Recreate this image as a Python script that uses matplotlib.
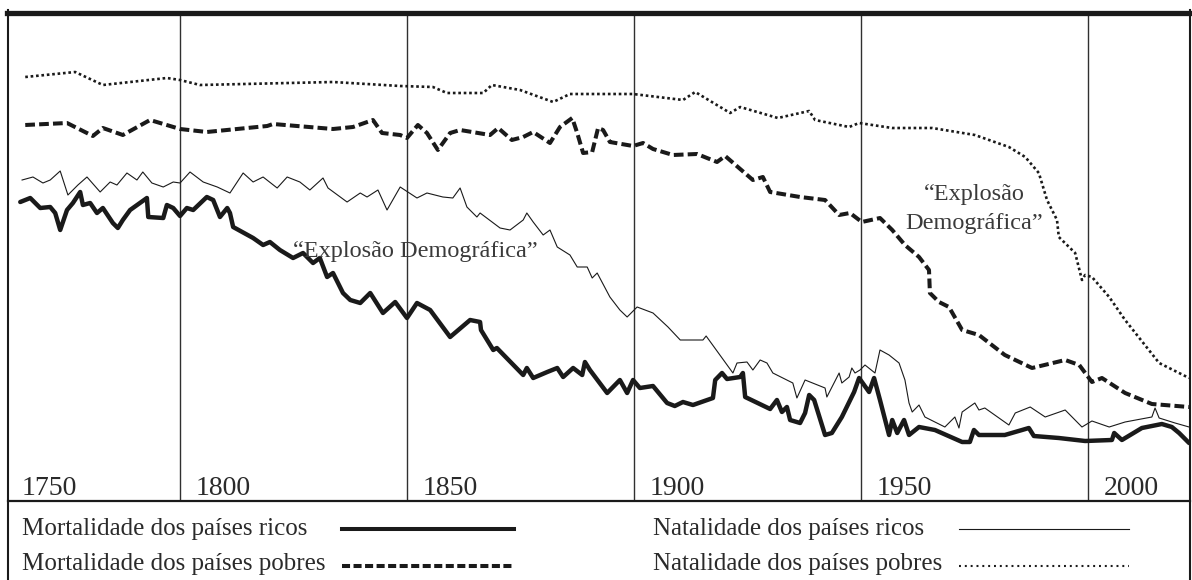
import matplotlib
matplotlib.use('Agg')
import matplotlib.pyplot as plt
from matplotlib.lines import Line2D

plt.rcParams['font.family'] = ['Liberation Serif', 'DejaVu Serif']
plt.rcParams['lines.scale_dashes'] = False

# ---------------- data (years, rate per thousand) ----------------
tick_years = [1800, 1850, 1900, 1950, 2000]
year_labels = ['1750', '1800', '1850', '1900', '1950', '2000']

natal_pobres_x = [1765.9, 1776.9, 1783.0, 1797.1, 1800.0, 1804.4, 1833.7, 1848.5, 1855.7, 1858.8,
                  1866.8, 1868.7, 1874.9, 1882.2, 1885.9, 1899.8, 1910.8, 1913.5, 1921.2, 1923.4,
                  1931.7, 1938.6, 1939.9, 1947.4, 1949.6, 1956.9, 1965.7, 1975.1, 1982.6, 1986.2,
                  1989.2, 1991.0, 1993.2, 1993.6, 1997.2, 1998.7, 1999.4, 2000.9, 2004.7, 2008.2,
                  2015.7, 2022.3]
natal_pobres_y = [46.4, 46.9, 45.6, 46.3, 46.1, 45.6, 45.9, 45.5, 45.4, 44.8,
                  44.8, 45.6, 45.1, 43.9, 44.7, 44.7, 44.1, 44.9, 42.8, 43.4,
                  42.3, 43.0, 42.1, 41.4, 41.8, 41.3, 41.3, 40.6, 39.4, 38.4,
                  36.8, 34.1, 32.1, 30.4, 28.8, 26.1, 26.6, 26.4, 24.4, 22.1,
                  17.8, 16.3]

mort_pobres_x = [1765.9, 1775.1, 1780.8, 1783.0, 1787.4, 1793.4, 1800.0, 1805.9, 1819.2, 1820.5,
                 1833.7, 1838.1, 1842.5, 1844.5, 1848.5, 1850.0, 1852.4, 1854.4, 1856.8, 1859.5,
                 1861.7, 1868.3, 1870.1, 1873.1, 1875.6, 1877.8, 1881.5, 1883.7, 1886.4, 1887.5,
                 1888.8, 1890.8, 1892.1, 1893.2, 1894.7, 1899.8, 1902.0, 1904.2, 1908.6, 1913.9,
                 1918.3, 1920.1, 1926.2, 1928.4, 1930.0, 1936.6, 1942.1, 1945.2, 1947.6, 1950.2,
                 1954.2, 1956.9, 1959.7, 1962.8, 1965.0, 1965.2, 1967.2, 1969.4, 1972.3, 1976.0,
                 1981.7, 1987.7, 1995.0, 1998.1, 2000.9, 2003.1, 2008.2, 2014.1, 2022.3]
mort_pobres_y = [41.6, 41.8, 40.5, 41.3, 40.6, 42.1, 41.2, 40.9, 41.5, 41.7,
                 41.2, 41.4, 42.1, 40.8, 40.6, 40.3, 41.6, 40.8, 39.1, 40.8,
                 41.1, 40.6, 41.3, 40.1, 40.4, 40.9, 39.8, 41.4, 42.3, 40.8,
                 38.8, 38.9, 41.3, 41.1, 39.9, 39.5, 39.8, 39.2, 38.6, 38.7,
                 37.9, 38.5, 36.1, 36.4, 34.9, 34.4, 34.1, 32.6, 32.8, 31.9,
                 32.3, 31.1, 29.6, 28.4, 27.1, 24.8, 23.9, 23.4, 21.1, 20.6,
                 18.6, 17.3, 18.1, 17.6, 15.9, 16.3, 14.8, 13.7, 13.4]

natal_ricos_x = [1765.2, 1767.6, 1769.8, 1771.4, 1773.6, 1775.3, 1777.5, 1779.5, 1782.4, 1784.6,
                 1786.1, 1788.3, 1790.5, 1791.8, 1793.8, 1796.3, 1798.5, 1800.0, 1802.2, 1805.1,
                 1808.2, 1811.0, 1813.9, 1816.1, 1818.3, 1821.4, 1823.6, 1826.4, 1828.6, 1831.5,
                 1832.6, 1836.8, 1839.7, 1841.2, 1843.6, 1845.6, 1848.5, 1852.2, 1854.4, 1857.9,
                 1860.1, 1861.7, 1863.2, 1865.4, 1866.1, 1870.5, 1872.7, 1875.6, 1876.4, 1877.8,
                 1880.0, 1881.5, 1883.1, 1885.9, 1887.5, 1889.7, 1890.8, 1891.9, 1894.7, 1896.9,
                 1898.5, 1900.7, 1904.2, 1907.5, 1910.2, 1915.2, 1915.9, 1921.8, 1922.7, 1924.9,
                 1926.2, 1927.8, 1929.3, 1930.6, 1935.0, 1935.9, 1937.7, 1942.1, 1942.5, 1945.2,
                 1945.8, 1947.4, 1948.0, 1948.7, 1949.8, 1950.9, 1953.1, 1954.2, 1956.2, 1958.4,
                 1959.7, 1960.6, 1961.3, 1962.8, 1964.1, 1968.5, 1970.7, 1971.6, 1972.3, 1975.1,
                 1976.0, 1977.3, 1982.6, 1984.0, 1987.3, 1990.6, 1995.0, 1998.7, 2000.9, 2004.7,
                 2008.2, 2014.1, 2014.8, 2015.7, 2019.2, 2022.3]
natal_ricos_y = [36.1, 36.4, 35.8, 36.1, 37.0, 34.6, 35.6, 36.4, 34.9, 35.9,
                 35.6, 36.8, 36.1, 36.9, 35.8, 35.4, 35.9, 35.8, 36.9, 35.9,
                 35.4, 34.8, 36.8, 35.9, 36.4, 35.3, 36.4, 35.9, 35.1, 36.3,
                 35.3, 33.9, 34.8, 34.4, 35.1, 33.1, 35.4, 34.3, 34.8, 34.4,
                 34.3, 35.3, 33.4, 32.4, 32.8, 31.3, 31.1, 32.1, 32.8, 31.9,
                 30.6, 31.1, 29.4, 28.6, 27.4, 27.4, 26.3, 26.8, 24.4, 23.1,
                 22.4, 23.4, 22.8, 21.4, 20.1, 20.1, 20.5, 16.8, 17.8, 17.9,
                 17.1, 18.1, 17.8, 16.8, 15.8, 14.3, 16.1, 15.3, 14.4, 16.8,
                 15.8, 16.4, 17.3, 16.8, 17.1, 17.6, 16.8, 19.1, 18.6, 17.8,
                 16.1, 13.8, 12.9, 13.6, 12.4, 11.4, 12.4, 11.3, 12.9, 13.8,
                 13.1, 13.3, 11.6, 12.8, 13.4, 12.4, 13.1, 11.4, 12.0, 11.4,
                 11.9, 12.4, 13.3, 12.3, 11.8, 11.4]

mort_ricos_x = [1764.8, 1767.0, 1769.2, 1771.4, 1772.5, 1773.6, 1775.1, 1776.4, 1778.0, 1778.6,
                1780.2, 1781.7, 1783.0, 1785.2, 1786.3, 1787.4, 1789.0, 1792.7, 1793.0, 1796.3,
                1797.1, 1798.5, 1800.0, 1801.5, 1802.9, 1805.9, 1807.3, 1808.8, 1810.4, 1811.0,
                1811.7, 1816.1, 1818.3, 1819.8, 1822.0, 1824.9, 1827.1, 1829.3, 1830.8, 1832.4,
                1833.7, 1835.9, 1837.5, 1839.7, 1841.9, 1844.7, 1847.4, 1850.0, 1852.2, 1855.1,
                1859.5, 1863.9, 1866.1, 1866.3, 1869.0, 1869.8, 1875.6, 1876.4, 1877.8, 1880.9,
                1883.1, 1884.4, 1886.6, 1888.6, 1889.2, 1890.3, 1894.1, 1896.9, 1898.5, 1899.8,
                1901.3, 1904.2, 1907.3, 1909.0, 1910.8, 1913.0, 1917.4, 1917.9, 1919.4, 1920.5,
                1923.4, 1924.0, 1924.5, 1930.0, 1931.5, 1932.6, 1933.7, 1934.4, 1936.6, 1937.7,
                1938.6, 1939.7, 1942.1, 1943.6, 1945.8, 1948.5, 1949.6, 1951.8, 1952.9, 1954.2,
                1956.2, 1956.9, 1958.0, 1959.5, 1960.6, 1962.8, 1966.3, 1972.3, 1974.0, 1974.9,
                1976.0, 1981.7, 1985.5, 1987.0, 1988.1, 1993.6, 1999.4, 2005.3, 2005.8, 2007.5,
                2011.9, 2016.3, 2018.5, 2020.1, 2022.3]
mort_ricos_y = [33.9, 34.3, 33.3, 33.4, 32.8, 31.1, 33.1, 33.8, 34.9, 33.6,
                33.8, 32.8, 33.3, 31.8, 31.3, 32.1, 33.1, 34.3, 32.4, 32.3,
                33.6, 33.3, 32.5, 33.3, 33.1, 34.4, 34.1, 32.4, 33.3, 32.8,
                31.4, 30.3, 29.6, 29.9, 29.1, 28.3, 28.8, 27.8, 28.3, 26.4,
                26.8, 24.8, 24.1, 23.8, 24.8, 22.8, 23.9, 22.3, 23.8, 23.1,
                20.4, 22.1, 21.9, 21.1, 19.1, 19.3, 16.6, 17.3, 16.3, 16.9,
                17.3, 16.4, 17.3, 16.6, 17.9, 17.1, 14.8, 16.1, 14.8, 16.1,
                15.3, 15.5, 13.8, 13.5, 13.9, 13.6, 14.3, 16.1, 16.8, 16.2,
                16.4, 16.8, 14.4, 13.2, 14.1, 12.9, 13.4, 12.1, 11.8, 12.8,
                14.6, 14.1, 10.6, 10.8, 12.4, 14.9, 16.3, 14.9, 16.3, 14.1,
                10.6, 12.1, 10.8, 12.1, 10.6, 11.4, 11.1, 9.9, 9.9, 11.1,
                10.6, 10.6, 11.1, 11.3, 10.5, 10.3, 10.0, 10.1, 10.8, 10.1,
                11.3, 11.7, 11.4, 10.8, 9.8]

legend_labels = ['Mortalidade dos países ricos', 'Mortalidade dos países pobres',
                 'Natalidade dos países ricos', 'Natalidade dos países pobres']
annotation_text = '“Explosão Demográfica”'
annotation_lines = ['“Explosão', 'Demográfica”']

# ---------------- figure ----------------
W, H = 1192, 580
fig = plt.figure(figsize=(W / 100, H / 100), dpi=100)


def fx(px):
    return px / W


def fy(py):
    return 1 - py / H


ax = fig.add_axes([fx(8), fy(501), fx(1190) - fx(8), fy(15) - fy(501)])
ax.set_xlim(1762.1, 2022.5)
ax.set_ylim(4.0, 52.6)
ax.axis('off')

INK = '#1a1a1a'
TXT = '#2a2a2a'

for yr in tick_years:
    ax.axvline(yr, color='#303030', lw=1.0, zorder=1)

ax.plot(natal_ricos_x, natal_ricos_y, color=INK, lw=0.8, solid_joinstyle='round', zorder=3)
ax.plot(mort_ricos_x, mort_ricos_y, color=INK, lw=3.2, solid_joinstyle='round',
        solid_capstyle='round', zorder=4)
ax.plot(mort_pobres_x, mort_pobres_y, color=INK, lw=2.9, dashes=(7, 3),
        dash_joinstyle='round', dash_capstyle='butt', zorder=3)
ax.plot(natal_pobres_x, natal_pobres_y, color=INK, lw=1.9, dashes=(1.9, 2.0),
        dash_capstyle='butt', zorder=3)

# year labels
ax.text(1762.1 + 3.1, 4.6, year_labels[0], fontsize=20, color=TXT, va='baseline', ha='left')
for yr, lab in zip(tick_years, year_labels[1:]):
    ax.text(yr + 3.5, 4.6, lab, fontsize=20, color=TXT, va='baseline', ha='left')

# annotations
ax.text(1824.9, 28.4, annotation_text, fontsize=17.5, color='#3a3a3a', va='baseline', ha='left', zorder=5)
ax.text(1975.0, 34.1, annotation_lines[0], fontsize=17.5, color='#3a3a3a', va='baseline', ha='center')
ax.text(1975.0, 31.2, annotation_lines[1], fontsize=17.5, color='#3a3a3a', va='baseline', ha='center')

# frame
fig.add_artist(Line2D([fx(7), fx(1192)], [fy(12.5), fy(12.5)], lw=3.8, color=INK))
fig.add_artist(Line2D([fx(8.3), fx(8.3)], [fy(10), fy(580)], lw=1.5, color=INK))
fig.add_artist(Line2D([fx(1190.3), fx(1190.3)], [fy(10), fy(580)], lw=1.5, color=INK))
fig.add_artist(Line2D([fx(8), fx(1190)], [fy(501), fy(501)], lw=1.6, color=INK))

# legend
fig.text(fx(22), fy(535), legend_labels[0], fontsize=18, color=TXT, va='baseline')
fig.text(fx(22), fy(570), legend_labels[1], fontsize=18, color=TXT, va='baseline')
fig.text(fx(653), fy(535), legend_labels[2], fontsize=18, color=TXT, va='baseline')
fig.text(fx(653), fy(570), legend_labels[3], fontsize=18, color=TXT, va='baseline')
fig.add_artist(Line2D([fx(342), fx(514)], [fy(529), fy(529)], lw=2.9, color=INK))
fig.add_artist(Line2D([fx(342), fx(514)], [fy(566), fy(566)], lw=2.9, color=INK,
                      dashes=(5.8, 2.5), dash_capstyle='butt'))
fig.add_artist(Line2D([fx(959), fx(1129)], [fy(529), fy(529)], lw=0.8, color=INK))
fig.add_artist(Line2D([fx(959), fx(1129)], [fy(566), fy(566)], lw=1.5, color=INK,
                      dashes=(1.4, 2.8), dash_capstyle='butt'))

fig.savefig('out.png', dpi=100, facecolor='white')
